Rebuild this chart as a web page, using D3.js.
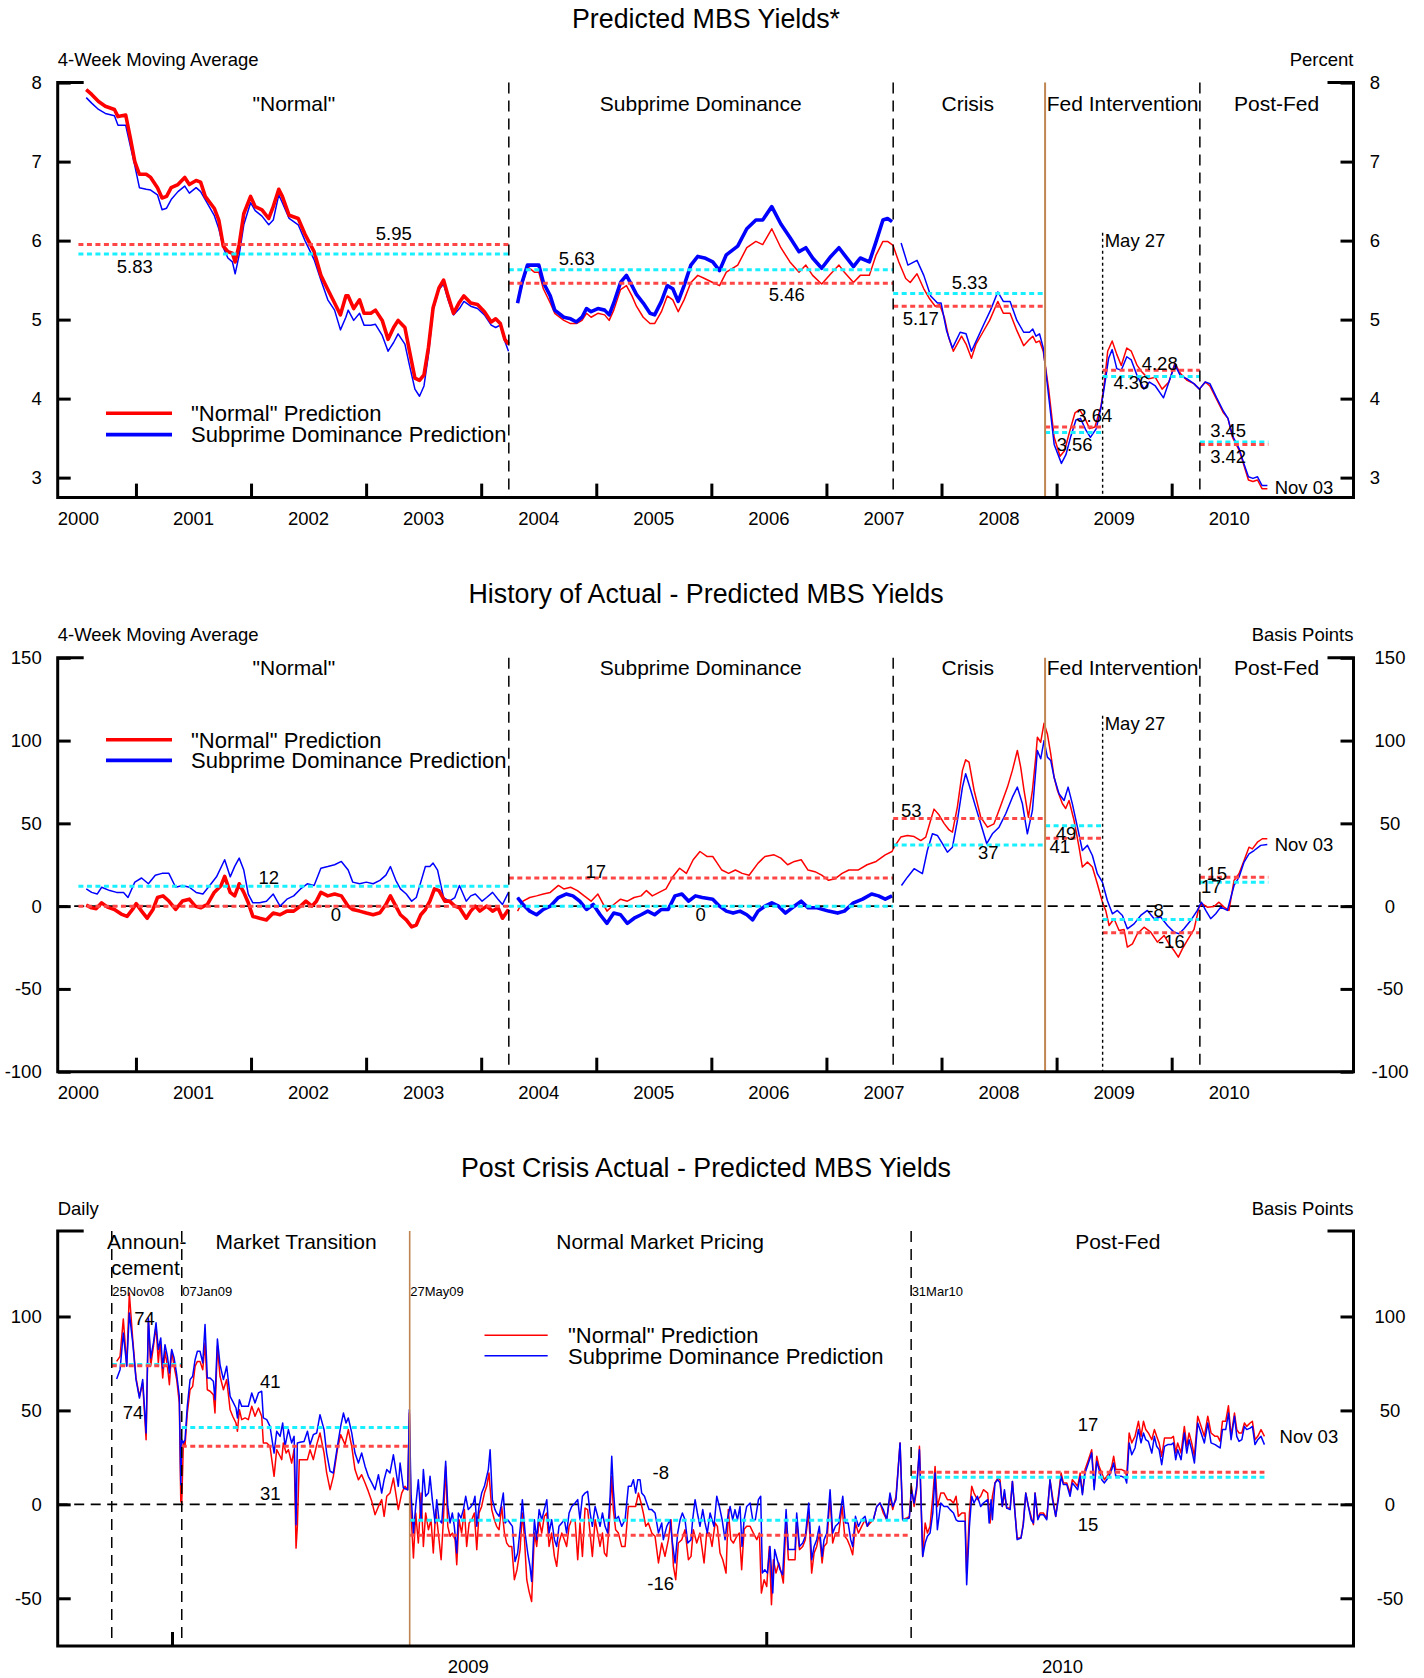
<!DOCTYPE html>
<html>
<head>
<meta charset="utf-8">
<script src="https://cdn.jsdelivr.net/npm/d3@7"></script>
<style>
body { margin: 0; background: #fff; }
svg text { font-family: "Liberation Sans", Arial, sans-serif; fill: #000; }
</style>
</head>
<body>
<svg id="chart" width="1424" height="1678"></svg>
<script>
// ---- regimes (decimal years) ----
const regimeEdges = [2000.50, 2004.24, 2007.58, 2008.90, 2009.40, 2010.245, 2010.84];
const dashedBreaks = [2004.24, 2007.58, 2010.245];
const fedStart = 2008.90;   // 25 Nov 2008
const may27 = 2009.40;      // 27 May 2009
const years = [2000, 2001, 2002, 2003, 2004, 2005, 2006, 2007, 2008, 2009, 2010];
const yearTicks = [2001, 2002, 2003, 2004, 2005, 2006, 2007, 2008, 2009, 2010];

// ---- panel 1: predicted yields, 4-week moving average (percent) ----
const p1Normal = [
[2000.568,7.91],[2000.615,7.85],[2000.675,7.76],[2000.734,7.70],[2000.813,7.66],[2000.844,7.57],[2000.911,7.59],[2000.951,7.30],[2000.990,7.00],[2001.030,6.84],[2001.089,6.84],[2001.128,6.80],[2001.187,6.67],[2001.227,6.54],[2001.266,6.56],[2001.306,6.67],[2001.365,6.71],[2001.424,6.80],[2001.464,6.71],[2001.523,6.76],[2001.562,6.74],[2001.602,6.56],[2001.680,6.41],[2001.720,6.26],[2001.759,5.93],[2001.799,5.86],[2001.838,5.84],[2001.862,5.73],[2001.897,5.95],[2001.937,6.34],[2001.996,6.56],[2002.036,6.43],[2002.095,6.39],[2002.154,6.28],[2002.193,6.43],[2002.241,6.65],[2002.272,6.56],[2002.331,6.32],[2002.410,6.28],[2002.469,6.08],[2002.548,5.86],[2002.607,5.56],[2002.667,5.38],[2002.726,5.21],[2002.777,5.06],[2002.824,5.30],[2002.844,5.30],[2002.892,5.14],[2002.943,5.25],[2002.982,5.08],[2003.041,5.08],[2003.081,5.12],[2003.140,4.99],[2003.191,4.75],[2003.239,4.90],[2003.278,4.99],[2003.337,4.90],[2003.377,4.60],[2003.424,4.26],[2003.464,4.23],[2003.503,4.30],[2003.542,4.65],[2003.582,5.15],[2003.633,5.40],[2003.673,5.50],[2003.712,5.30],[2003.759,5.08],[2003.811,5.22],[2003.850,5.30],[2003.909,5.21],[2003.968,5.19],[2004.028,5.10],[2004.087,4.97],[2004.126,5.01],[2004.166,4.95],[2004.205,4.75],[2004.237,4.69],
[2004.27,null],
[2004.316,5.21],[2004.355,5.43],[2004.402,5.67],[2004.462,5.60],[2004.501,5.60],[2004.540,5.39],[2004.600,5.21],[2004.639,5.08],[2004.718,4.99],[2004.777,4.95],[2004.828,4.95],[2004.876,4.99],[2004.915,5.08],[2004.955,5.03],[2005.014,5.08],[2005.073,5.06],[2005.112,4.99],[2005.152,5.12],[2005.211,5.38],[2005.262,5.43],[2005.310,5.30],[2005.349,5.17],[2005.408,5.03],[2005.467,4.95],[2005.507,4.95],[2005.566,5.10],[2005.617,5.30],[2005.665,5.25],[2005.712,5.10],[2005.763,5.25],[2005.822,5.47],[2005.882,5.56],[2005.941,5.52],[2006.012,5.47],[2006.071,5.43],[2006.130,5.60],[2006.229,5.69],[2006.308,5.91],[2006.387,5.99],[2006.446,5.95],[2006.525,6.15],[2006.604,5.91],[2006.683,5.73],[2006.762,5.60],[2006.821,5.69],[2006.880,5.56],[2006.959,5.45],[2007.038,5.58],[2007.109,5.69],[2007.156,5.60],[2007.235,5.47],[2007.294,5.56],[2007.373,5.56],[2007.432,5.82],[2007.491,5.99],[2007.531,5.99],[2007.570,5.95],
[2007.578,5.94],[2007.629,5.73],[2007.689,5.52],[2007.728,5.47],[2007.787,5.58],[2007.846,5.39],[2007.898,5.26],[2007.945,5.17],[2007.984,5.19],[2008.024,5.03],[2008.063,4.77],[2008.103,4.60],[2008.174,4.79],[2008.213,4.69],[2008.260,4.51],[2008.300,4.69],[2008.359,4.84],[2008.418,4.99],[2008.489,5.23],[2008.537,5.08],[2008.596,5.08],[2008.655,4.86],[2008.714,4.67],[2008.765,4.75],[2008.793,4.79],[2008.821,4.71],[2008.852,4.73],[2008.884,4.60],[2008.931,4.12],[2008.979,3.51],[2009.030,3.27],[2009.069,3.34],[2009.109,3.56],[2009.160,3.82],[2009.199,3.86],[2009.247,3.75],[2009.286,3.62],[2009.333,3.64],[2009.385,3.90],[2009.412,4.16],[2009.444,4.60],[2009.483,4.73],[2009.523,4.56],[2009.562,4.42],[2009.610,4.64],[2009.649,4.60],[2009.700,4.42],[2009.740,4.34],[2009.799,4.25],[2009.858,4.27],[2009.917,4.12],[2009.976,4.21],[2010.028,4.45],[2010.075,4.32],[2010.134,4.23],[2010.193,4.19],[2010.241,4.12],[2010.292,4.21],[2010.332,4.16],[2010.391,3.99],[2010.450,3.82],[2010.489,3.75],[2010.529,3.51],[2010.588,3.34],[2010.627,3.16],[2010.667,2.97],[2010.706,2.95],[2010.746,2.97],[2010.785,2.86],[2010.832,2.86]
];
const p1Subprime = [
[2000.568,7.81],[2000.615,7.74],[2000.675,7.66],[2000.734,7.61],[2000.813,7.58],[2000.844,7.46],[2000.911,7.46],[2000.951,7.20],[2000.990,6.95],[2001.030,6.67],[2001.089,6.65],[2001.128,6.64],[2001.187,6.58],[2001.227,6.39],[2001.266,6.41],[2001.306,6.52],[2001.365,6.62],[2001.424,6.69],[2001.464,6.60],[2001.523,6.67],[2001.562,6.62],[2001.602,6.52],[2001.680,6.32],[2001.720,6.15],[2001.759,5.91],[2001.799,5.78],[2001.838,5.73],[2001.862,5.58],[2001.897,5.82],[2001.937,6.20],[2001.996,6.48],[2002.036,6.38],[2002.095,6.31],[2002.154,6.20],[2002.193,6.26],[2002.241,6.58],[2002.272,6.48],[2002.331,6.28],[2002.410,6.20],[2002.469,6.00],[2002.548,5.76],[2002.607,5.50],[2002.667,5.25],[2002.726,5.12],[2002.777,4.87],[2002.824,5.03],[2002.844,5.12],[2002.892,4.99],[2002.943,5.08],[2002.982,4.93],[2003.041,4.93],[2003.081,4.94],[2003.140,4.80],[2003.191,4.60],[2003.239,4.71],[2003.278,4.82],[2003.337,4.69],[2003.377,4.42],[2003.424,4.12],[2003.464,4.03],[2003.503,4.16],[2003.542,4.56],[2003.582,5.12],[2003.633,5.38],[2003.673,5.45],[2003.712,5.25],[2003.759,5.06],[2003.811,5.14],[2003.850,5.23],[2003.909,5.17],[2003.968,5.14],[2004.028,5.06],[2004.087,4.93],[2004.126,4.90],[2004.166,4.93],[2004.205,4.73],[2004.237,4.60],
[2004.27,null],
[2004.316,5.21],[2004.355,5.47],[2004.402,5.69],[2004.462,5.69],[2004.501,5.69],[2004.540,5.47],[2004.600,5.30],[2004.639,5.12],[2004.718,5.03],[2004.777,5.01],[2004.828,4.97],[2004.876,5.03],[2004.915,5.14],[2004.955,5.10],[2005.014,5.14],[2005.073,5.12],[2005.112,5.06],[2005.152,5.21],[2005.211,5.47],[2005.262,5.56],[2005.310,5.43],[2005.349,5.32],[2005.408,5.21],[2005.467,5.08],[2005.507,5.06],[2005.566,5.23],[2005.617,5.43],[2005.665,5.39],[2005.712,5.23],[2005.763,5.43],[2005.822,5.69],[2005.882,5.80],[2005.941,5.78],[2006.012,5.73],[2006.071,5.62],[2006.130,5.82],[2006.229,5.93],[2006.308,6.15],[2006.387,6.26],[2006.446,6.26],[2006.525,6.43],[2006.604,6.21],[2006.683,6.04],[2006.762,5.86],[2006.821,5.91],[2006.880,5.78],[2006.959,5.65],[2007.038,5.80],[2007.109,5.91],[2007.156,5.82],[2007.235,5.67],[2007.294,5.78],[2007.373,5.73],[2007.432,5.99],[2007.491,6.26],[2007.531,6.28],[2007.570,6.24],
[2007.60,null],
[2007.649,5.97],[2007.708,5.69],[2007.787,5.75],[2007.846,5.56],[2007.906,5.30],[2007.965,5.21],[2007.996,5.21],[2008.044,4.86],[2008.095,4.64],[2008.162,4.84],[2008.213,4.82],[2008.260,4.60],[2008.308,4.75],[2008.371,4.95],[2008.426,5.12],[2008.489,5.35],[2008.537,5.23],[2008.596,5.23],[2008.655,4.99],[2008.714,4.84],[2008.765,4.84],[2008.793,4.88],[2008.821,4.79],[2008.852,4.82],[2008.884,4.64],[2008.931,4.03],[2008.979,3.42],[2009.042,3.18],[2009.081,3.29],[2009.121,3.51],[2009.168,3.73],[2009.207,3.75],[2009.255,3.60],[2009.294,3.51],[2009.345,3.62],[2009.385,3.88],[2009.412,4.12],[2009.452,4.51],[2009.483,4.62],[2009.523,4.38],[2009.562,4.36],[2009.610,4.53],[2009.649,4.49],[2009.700,4.29],[2009.759,4.12],[2009.807,4.21],[2009.858,4.16],[2009.929,4.01],[2009.976,4.21],[2010.028,4.43],[2010.075,4.29],[2010.134,4.25],[2010.193,4.19],[2010.241,4.12],[2010.292,4.21],[2010.332,4.19],[2010.391,4.01],[2010.450,3.84],[2010.489,3.75],[2010.529,3.53],[2010.588,3.36],[2010.627,3.18],[2010.667,3.01],[2010.706,2.99],[2010.746,3.01],[2010.785,2.90],[2010.832,2.90]
];
const p1MeanNormal = [5.95, 5.46, 5.17, 3.64, 4.36, 3.42];
const p1MeanSub = [5.83, 5.63, 5.33, 3.57, 4.28, 3.45];

// ---- panel 2: actual - predicted, 4-week moving average (bp) ----
const p2Normal = [
[2000.568,0.6],[2000.615,-1],[2000.655,-1.5],[2000.702,2],[2000.753,-0.6],[2000.813,-2],[2000.872,-4.8],[2000.923,-6.2],[2000.970,-2],[2001.002,1.5],[2001.049,-3],[2001.097,-7.3],[2001.148,-2],[2001.187,5.2],[2001.235,6.2],[2001.286,3.1],[2001.345,-2],[2001.404,3.1],[2001.464,4.2],[2001.515,0],[2001.562,-1],[2001.621,1],[2001.680,8.3],[2001.740,12.5],[2001.771,18],[2001.819,8.3],[2001.858,6.2],[2001.897,13.5],[2001.937,8.3],[2001.976,2],[2002.016,-6.2],[2002.075,-7.3],[2002.134,-8.3],[2002.193,-4.2],[2002.252,-5.2],[2002.312,-3],[2002.371,-3],[2002.430,0],[2002.477,3],[2002.529,0],[2002.568,3],[2002.607,8.3],[2002.667,6.2],[2002.726,7.3],[2002.785,6.2],[2002.844,0],[2002.884,-2],[2002.943,-3],[2003.002,-4.2],[2003.061,-5.2],[2003.120,-4],[2003.172,1],[2003.211,6.2],[2003.258,0],[2003.298,-5.2],[2003.349,-8.3],[2003.396,-12.5],[2003.436,-11.4],[2003.475,-5.2],[2003.515,-2],[2003.554,3],[2003.594,10.4],[2003.633,9.4],[2003.684,3],[2003.724,3],[2003.771,0],[2003.811,-1],[2003.870,-7.3],[2003.909,-3],[2003.949,0],[2003.988,-3],[2004.047,0],[2004.099,-3],[2004.146,-1],[2004.185,-7.3],[2004.237,-2],
[2004.27,null],
[2004.316,-3],[2004.363,3],[2004.422,5.2],[2004.481,6.2],[2004.540,7.3],[2004.600,8.3],[2004.671,12.5],[2004.718,10.4],[2004.777,11.4],[2004.836,9.4],[2004.895,6.2],[2004.955,3],[2005.014,7.3],[2005.093,-3],[2005.152,1],[2005.211,4.2],[2005.270,3],[2005.329,5.2],[2005.389,6.2],[2005.436,9.4],[2005.487,6.2],[2005.546,8.3],[2005.606,10.4],[2005.665,17.7],[2005.724,22.9],[2005.783,19.8],[2005.842,28],[2005.901,33],[2005.961,30],[2006.012,30],[2006.051,26],[2006.091,21.8],[2006.150,19.8],[2006.209,21.8],[2006.268,19.8],[2006.328,18.7],[2006.406,26],[2006.466,30],[2006.545,31],[2006.604,29],[2006.663,25],[2006.722,27],[2006.781,28],[2006.840,21.8],[2006.900,20.8],[2006.959,18.7],[2007.018,15.6],[2007.077,16.6],[2007.136,19.8],[2007.195,21.8],[2007.274,21.8],[2007.353,25],[2007.432,27],[2007.511,31],[2007.570,33],
[2007.588,35.6],[2007.646,41.7],[2007.704,42.7],[2007.762,42],[2007.820,39.6],[2007.863,41.7],[2007.906,52],[2007.935,58.6],[2007.979,55],[2008.022,50],[2008.066,46],[2008.095,44.7],[2008.138,60],[2008.182,82],[2008.210,88.4],[2008.239,87],[2008.283,70],[2008.341,53.7],[2008.399,47.7],[2008.456,49.7],[2008.515,60.8],[2008.573,71.9],[2008.616,82],[2008.659,94],[2008.688,84],[2008.717,69.9],[2008.755,53.7],[2008.790,69.9],[2008.819,90],[2008.833,102],[2008.862,99],[2008.891,110.5],[2008.920,104],[2008.949,92],[2008.978,78],[2009.007,70],[2009.050,62],[2009.079,59],[2009.108,63.8],[2009.152,51.7],[2009.195,35.6],[2009.224,23.6],[2009.268,26.6],[2009.311,23.6],[2009.354,13.5],[2009.398,2.4],[2009.427,-2.6],[2009.456,-11.7],[2009.499,-7.6],[2009.543,-14.7],[2009.586,-14.1],[2009.615,-24.7],[2009.659,-22.8],[2009.702,-16.7],[2009.760,-12.7],[2009.818,-15.7],[2009.876,-21.7],[2009.934,-17.7],[2009.977,-22.8],[2010.020,-26.8],[2010.058,-30.8],[2010.093,-25.8],[2010.136,-20.7],[2010.194,-14.1],[2010.238,-0.6],[2010.267,1.4],[2010.310,-0.6],[2010.368,-0.2],[2010.411,2.4],[2010.455,-0.6],[2010.498,-2.6],[2010.542,15.5],[2010.585,19.6],[2010.629,27.6],[2010.672,35.6],[2010.701,34.6],[2010.745,38.6],[2010.788,40.7],[2010.831,40.7]
];
const p2Subprime = [
[2000.568,10.4],[2000.615,8.3],[2000.663,7.3],[2000.702,11.4],[2000.773,9.4],[2000.832,8.3],[2000.892,8.3],[2000.931,5.2],[2000.990,14.5],[2001.049,17],[2001.108,13.5],[2001.168,18.7],[2001.227,19.8],[2001.286,19.8],[2001.345,11.4],[2001.404,12.5],[2001.464,11.4],[2001.523,8.3],[2001.582,7.3],[2001.641,12.5],[2001.700,17.7],[2001.771,28],[2001.819,17.7],[2001.858,24],[2001.897,29],[2001.937,21.8],[2001.976,7.3],[2002.016,2],[2002.075,2],[2002.134,3],[2002.193,7.3],[2002.252,0],[2002.312,4.2],[2002.371,6.2],[2002.430,10.4],[2002.489,13.5],[2002.548,12.5],[2002.607,22.9],[2002.667,23.9],[2002.726,25],[2002.785,27],[2002.844,21.8],[2002.884,14.5],[2002.943,13.5],[2003.002,14.5],[2003.061,13.5],[2003.120,15.6],[2003.172,18.7],[2003.211,23.9],[2003.258,15.6],[2003.298,10.4],[2003.349,7.3],[2003.396,3],[2003.436,5.2],[2003.475,14.5],[2003.515,23.9],[2003.554,23.9],[2003.582,26],[2003.621,21.8],[2003.673,5.2],[2003.724,3],[2003.771,5.2],[2003.811,12.5],[2003.870,3],[2003.909,6.2],[2003.949,7.3],[2004.008,3],[2004.047,5.2],[2004.099,8.3],[2004.146,4.2],[2004.185,1],[2004.237,8.3],
[2004.27,null],
[2004.316,5.2],[2004.363,1],[2004.422,-3],[2004.481,-5.2],[2004.540,-2],[2004.600,0],[2004.671,5.2],[2004.738,7.3],[2004.797,6.2],[2004.856,3],[2004.915,-2],[2004.974,1],[2005.034,-5.2],[2005.093,-10.4],[2005.152,-4.2],[2005.211,-5.2],[2005.270,-10.4],[2005.329,-7.3],[2005.389,-5.2],[2005.448,-3],[2005.507,-5.2],[2005.566,-2],[2005.625,-2],[2005.684,6.2],[2005.744,7.3],[2005.803,3],[2005.862,6.2],[2005.921,5.2],[2006.012,4.2],[2006.071,0],[2006.130,-3],[2006.189,-4.2],[2006.249,-3],[2006.308,-5.2],[2006.359,-8.3],[2006.406,-3],[2006.466,0],[2006.525,2],[2006.584,0],[2006.643,-4.2],[2006.702,-1],[2006.781,3],[2006.840,-1],[2006.919,-1],[2007.018,-3],[2007.097,-4.2],[2007.156,-3],[2007.235,2],[2007.314,4.2],[2007.393,7.3],[2007.452,6.2],[2007.511,4.2],[2007.570,6.2],
[2007.60,null],
[2007.652,12.5],[2007.704,17.5],[2007.762,22.6],[2007.834,19.6],[2007.877,33.6],[2007.921,43.7],[2007.964,42.7],[2008.008,37.7],[2008.051,32.6],[2008.095,35.6],[2008.138,51.7],[2008.182,71.9],[2008.210,80],[2008.254,70],[2008.297,59.8],[2008.341,49.8],[2008.393,37.7],[2008.442,43.7],[2008.500,47.7],[2008.558,55.8],[2008.616,65.8],[2008.659,71.9],[2008.703,61.8],[2008.746,43.7],[2008.790,57.8],[2008.833,94],[2008.862,89],[2008.891,100],[2008.920,90],[2008.949,88],[2008.978,77.9],[2009.021,67.9],[2009.065,63.8],[2009.100,71.9],[2009.137,61.8],[2009.181,47.7],[2009.224,33.6],[2009.268,36.7],[2009.311,30.6],[2009.354,19.6],[2009.398,14.5],[2009.441,3.4],[2009.485,-4.6],[2009.528,-2.6],[2009.572,-5.6],[2009.615,-13.7],[2009.673,-10.7],[2009.731,-5.6],[2009.789,-2.6],[2009.847,-7.6],[2009.905,-6.6],[2009.963,-11.7],[2010.020,-15.7],[2010.064,-16.7],[2010.107,-13.7],[2010.165,-8.7],[2010.223,-2.6],[2010.258,2.4],[2010.296,-2.6],[2010.339,-7.6],[2010.383,-4.6],[2010.426,-0.6],[2010.484,-2.6],[2010.542,12.5],[2010.585,17.5],[2010.629,26.6],[2010.672,31.6],[2010.716,33.6],[2010.774,36.7],[2010.831,37.3]
];
const p2MeanNormal = [0, 17, 53, 41, -16, 17.5];
const p2MeanSub = [12, 0, 37, 48.5, -8, 14.5];

// ---- panel 3: daily, days since 1 Jan 2009 ----
const p3Edges = [-37, 6, 146, 454, 671];   // 25Nov08, 07Jan09, 27May09, 31Mar10, 03Nov10
const p3Dashed = [-37, 6, 454];
const p3Brown = 146;
const p3Normal = [
[-34.0,76.1],[-31.9,78.8],[-29.9,98.7],[-27.8,73.8],[-26.2,112.5],[-24.1,87.7],[-22.1,67.3],[-20.0,57.5],[-18.0,64.6],[-15.9,34.4],[-14.5,98.3],[-13.1,73.5],[-11.4,84.1],[-9.8,94.8],[-8.4,75.3],[-7.3,86.8],[-5.7,67.3],[-4.3,81.5],[-2.8,73.5],[-1.6,63.7],[-0.2,81.5],[1.3,73.5],[2.9,66.4],[4.5,54],[5.4,1.6],
[6.0,0.7],[7.0,33.5],[8.0,30.9],[9.4,48.6],[11.1,61],[12.7,62.8],[14.2,73.5],[15.6,76.1],[17.2,76.1],[18.9,71.7],[20.3,85.9],[21.7,61],[23.4,60.2],[25.4,58.4],[26.4,48.6],[27.9,84.1],[29.5,68.2],[31.6,61],[33.6,66.4],[35.7,50.4],[37.3,46.9],[39.3,43.3],[40.2,38.9],[41.4,50.4],[42.8,45.1],[44.9,46],[46.9,45.1],[49.0,52.2],[51.0,46.9],[53.1,51.3],[55.1,46.9],[56.1,32.7],[58.2,32.7],[60.2,30.9],[62.7,14.9],[64.3,29.1],[66.4,25.6],[67.4,23.8],[68.4,32.7],[70.1,27.3],[71.5,29.1],[73.5,22],[75.0,29.1],[76.2,-23.3],[77.0,-11.7],[78.2,23.8],[80.7,23.8],[83.2,23.8],[84.8,29.1],[86.8,23.8],[88.9,31.8],[90.9,38],[93.4,27.3],[95.0,16.7],[97.1,7.8],[99.1,14.9],[101.6,29.1],[103.6,37.1],[106.3,31.8],[108.3,39.8],[110.4,30.9],[112.4,18.5],[114.5,13.1],[116.5,15.8],[118.6,11.4],[120.6,6.9],[122.7,1.6],[124.7,-5.5],[126.8,-1.1],[128.8,2.5],[130.3,-6.4],[131.9,4.3],[133.9,6],[136.0,14],
[139.0,-2.8],[141.1,6],[143.1,9.6],[144.8,7.8],[145.8,48.6],[146.8,-4.6],[148.3,-28.6],[149.7,-4.6],[151.3,-20.6],[153.0,6],[154.4,-22.4],[155.8,-4.6],[157.5,-13.5],[159.1,-8.2],[160.5,-25.9],[162.0,-2.8],[163.6,-15.3],[165.3,-29.5],[166.7,-8.2],[168.1,20.2],[169.4,-11.7],[170.8,-17],[172.2,-15.3],[173.9,-18.8],[174.9,-32.1],[176.3,-8.2],[177.9,-15.3],[179.6,-2.8],[181.0,-22.4],[182.5,-9.9],[184.1,-8.2],[185.7,-4.6],[187.2,-24.1],[188.6,-4.6],[190.2,-1.1],[191.9,6],[193.3,9.6],[194.7,16.7],[196.4,-2.8],[198.0,-8.2],[199.4,-11.7],[200.9,-13.5],[202.5,-1.1],[204.2,-15.3],[205.6,-20.6],[207.0,-22.4],[208.7,-22.4],[210.3,-40.1],[211.9,-34.8],[213.8,-24.1],[215.2,-4.6],[216.4,-17],[217.9,-40.1],[219.3,-46.3],[220.9,-51.7],[222.6,-15.3],[224.0,-22.4],[225.5,-8.2],[227.1,-15.3],[228.7,-6.4],[230.2,-4.6],[231.6,-22.4],[233.2,-15.3],[234.9,-27.7],[236.3,-33],[237.7,-20.6],[239.4,-15.3],[241.0,-18.8],[242.4,-22.4],[243.9,-11.7],[245.5,-8.2],[247.6,-8.2],[249.2,-29.5],[250.6,-9.9],[252.1,-27.7],[253.7,-2],[255.3,-2.8],[256.8,-15.3],[258.2,-27.7],[259.9,-8.2],[261.5,-15.3],[262.9,-22.4],[264.4,-15.3],[265.6,-25.9],[267.0,-27.7],[268.5,-11.7],[270.1,14.9],[271.1,-2.8],[272.5,-13.5],[274.2,-15.3],[276.2,-22.4],[278.3,-22.4],[280.3,-1.1],[282.8,-1.1],[284.8,-1.1],[286.5,6],[288.1,0.7],[289.5,-4.6],[291.0,-11.7],[292.6,-9.9],[294.7,-15.3],[296.7,-17],[298.8,-31.2],[300.8,-20.6],[302.8,-27.7],[304.9,-18.8],[306.5,-8.2],[308.0,-33],[309.4,-40.1],[311.0,-20.6],[313.1,-18.8],[315.1,-13.5],[317.2,-29.5],[318.8,-27.7],
[320.2,-13.5],[322.3,-20.6],[324.3,-15.3],[326.8,-31.2],[328.4,-15.3],[330.1,-15.3],[331.7,-22.4],[333.6,-9.9],[335.0,-11.7],[336.6,-25.9],[338.3,-29.5],[340.3,-36.6],[341.7,-2.8],[343.2,-18.8],[344.8,-20.6],[346.9,-17],[348.5,-15.3],[349.9,-34.8],[351.4,-13.3],[353.0,-11.7],[355.1,-11.7],[357.1,-15.3],[359.2,-18.8],[360.8,-15.3],[362.0,-47.2],[363.7,-40.1],[365.3,-43.7],[366.9,-22.4],[368.2,-53.4],[369.4,-29.5],[371.0,-36.6],[372.7,-31.2],[374.3,-36.6],[375.5,-41.9],[377.2,-8.2],[378.6,-29.5],[380.7,-29.5],[382.7,-29.5],[383.7,-8.2],[385.4,-24.1],[387.4,-22.4],[389.0,-18.8],[391.1,-4.6],[392.9,-36.6],[394.4,-25.9],[396.0,-22.4],[397.6,-15.3],[399.3,-31.2],[400.5,-22.4],[402.2,-20.6],[404.2,4.3],[405.8,-20.6],[407.5,-15.3],[409.5,-15.3],[411.6,-1.1],[413.2,-17],[414.8,-18.8],[416.5,-22.4],[418.1,-26.8],[419.8,-9.9],[421.6,-15.3],[423.6,-11.7],[425.7,-8.2],[427.1,-11.7],[428.8,-9.9],[430.8,-8.2],[432.9,-1.1],[434.9,0.7],[436.9,-4.6],[439.0,-8.2],[441.0,4.3],[442.7,-2.8],[444.7,4.3],[447.2,32.7],[448.8,-8.2],[451.3,-7.3],[452.9,-6.4],[454.2,9.6],[455.8,-1.1],[457.4,7.8],[459.1,30.9],[461.1,-27.7],[462.6,-9.9],[464.0,-15.3],[465.6,-11.7],[467.3,4.3],[468.7,20.2],[470.1,-1.1],[472.2,6],[474.2,6],[476.3,2.5],[477.9,2.5],[480.0,0.7],[481.6,4.3],[483.0,-6.4],[485.1,-4.6],[487.1,-4.6],[488.1,-36.6],[489.8,-4.6],[491.2,9.6],[492.6,6],[494.7,2.5],[496.7,4.3],[498.4,7.8],
[501.0,6],[502.5,-9.9],[503.9,4.3],[505.5,11.4],[507.2,14],[508.6,13.1],[510.0,-1.1],[511.3,6],[512.7,-2],[514.8,-2],[516.2,12.2],[517.8,-4.6],[519.1,-17.9],[521.5,-17.9],[522.9,-9.9],[524.4,6],[526.0,-1.1],[527.7,-6.4],[529.1,-10.8],[530.1,6],[531.8,-7.3],[533.2,-4.6],[535.2,-4.6],[537.3,-7.3],[539.3,13.1],[540.8,4.3],[542.8,-6.4],[544.4,4.3],[546.1,16.7],[547.5,11.4],[549.6,11.4],[551.6,6],[553.0,13.1],[554.7,11.4],[556.3,9.6],[557.8,16.7],[559.2,6],[560.8,18.5],[562.9,23.8],[564.9,29.1],[566.4,9.6],[568.0,25.6],[569.4,20.2],[571.1,16.7],[572.7,13.1],[574.1,14.9],[575.6,16.7],[577.2,20.2],[578.4,25.6],[579.7,18.5],[581.3,18.5],[583.3,18.5],[585.4,17.6],[586.4,14.9],[587.9,38],[589.5,32.7],[591.5,36.2],[593.6,44.2],[595.2,36.2],[596.7,44.2],[598.1,39.8],[599.7,38],[601.8,34.4],[603.4,39.8],[604.8,36.2],[606.3,32.7],[607.9,25.6],[609.6,35.3],[611.6,35.3],[613.7,35.3],[615.1,36.2],[616.5,27.3],[617.7,32.7],[619.8,27.3],[621.8,41.5],[623.3,30.9],[624.7,38],[626.3,32.7],[628.0,25.6],[630.0,46.9],[632.1,41.5],[634.1,36.2],[636.2,46.9],[638.2,38],[640.7,36.2],[642.3,36.2],[643.8,33.5],[645.2,44.2],[647.2,44.2],[648.9,52.5],[650.5,36.2],[652.6,48.6],[654.0,39.8],[655.4,38],[657.1,38],[658.7,43.3],[660.1,41.5],[662.2,43.3],[663.6,44.2],[665.2,34.4],[666.9,36.2],[668.9,39.8],[671.0,36.2]
];
const p3Subprime = [
[-34.0,66.7],[-31.9,71.7],[-29.9,91.2],[-27.8,73.5],[-26.2,101.9],[-24.1,85.9],[-22.1,66.4],[-20.0,56.6],[-18.0,66.4],[-15.9,38],[-14.5,99.2],[-13.1,77.9],[-11.4,85.9],[-9.8,96.6],[-8.4,82.4],[-6.9,88.6],[-5.7,72.6],[-4.3,85],[-2.8,78.8],[-1.6,69.9],[-0.2,82.4],[1.3,77.9],[2.9,69],[4.5,57.5],[5.4,10.5],
[6.0,34.4],[7.0,32.7],[8.0,34.4],[9.4,52.2],[11.1,66.4],[12.7,68.2],[14.2,77],[15.6,81.5],[17.2,81.5],[18.9,75.3],[20.3,95.7],[21.7,67.3],[23.4,67.3],[25.4,65.5],[26.4,55.7],[27.9,88],[29.5,74.4],[31.6,66.4],[33.6,73.5],[35.7,57.5],[37.3,54.8],[39.3,51.3],[40.2,46],[41.4,55.7],[42.8,52.2],[44.9,52.2],[46.9,52.2],[49.0,59.3],[51.0,54],[53.1,59.3],[55.1,60.2],[56.1,46],[58.2,45.1],[60.2,41.5],[62.7,27.3],[64.3,38.9],[66.4,36.2],[68.0,43.3],[69.4,30.9],[71.5,39.8],[73.5,32.7],[75.0,36.2],[76.2,-10.8],[77.0,32.7],[78.6,33],[81.1,33.5],[83.2,38.9],[84.8,31.8],[86.8,37.1],[88.9,38],[90.9,47.7],[93.4,39.8],[95.0,27.3],[97.1,17.6],[99.1,16.7],[101.6,30.9],[103.6,41.5],[105.3,48.6],[106.9,43.3],[108.3,46],[110.4,38],[112.4,27.3],[114.5,22],[116.5,27.3],[118.6,20.2],[120.6,14.9],[122.7,11.4],[124.7,7.8],[126.8,15.8],[128.8,6],[130.3,13.1],[131.9,18.5],[133.9,16.7],[136.0,26.4],
[139.0,9.6],[140.1,22],[142.1,8.7],[144.8,7.8],[145.8,50.4],[146.8,6],[148.3,-15.3],[149.7,-1.1],[151.3,13.1],[153.0,-8.2],[154.4,18.5],[155.8,4.3],[157.5,6],[158.5,14.9],[159.9,2.5],[161.6,-9.9],[162.6,2.5],[164.0,-8.2],[165.7,-9.9],[166.7,2.5],[168.1,22.9],[169.4,-1.1],[170.8,-9.9],[172.2,-4.6],[173.4,-11.7],[174.9,-25.9],[175.9,-4.6],[177.5,-7.3],[179.0,-2.8],[180.4,4.3],[182.0,-2.8],[183.7,-1.1],[185.1,0.7],[186.1,4.3],[187.2,-11.7],[188.6,-1.1],[190.2,6],[191.9,9.6],[193.3,14.9],[194.3,18.5],[195.4,29.1],[196.8,2.5],[198.4,-2.8],[199.4,-4.6],[200.9,-6.4],[202.1,-1.1],[203.5,6],[204.6,-9.9],[206.2,-8.2],[207.6,-9.9],[209.1,-11.7],[210.7,-30.4],[212.3,-25.9],[214.0,-11.7],[215.2,2.5],[216.9,-15.3],[218.5,-25.9],[219.9,-33],[220.9,-41],[222.6,-8.2],[224.0,-18.8],[225.5,-2.8],[227.1,-8.2],[228.7,-2.8],[230.2,2.5],[231.6,-15.3],[233.2,-8.2],[234.9,-18.8],[236.3,-22.4],[237.7,-11.7],[239.4,-9.9],[241.0,-8.2],[242.4,-15.3],[243.9,-4.6],[245.5,-1.1],[247.6,0.7],[249.2,2.5],[250.6,-8.2],[252.1,4.3],[253.7,6],[255.3,6.9],[256.8,-4.6],[258.2,-11.7],[259.9,-1.1],[261.5,-6.4],[262.9,-11.7],[264.4,-4.6],[266.0,-11.7],[267.6,-15.3],[269.1,4.3],[270.1,25.6],[271.1,7.8],[272.5,-8.2],[274.2,-6.4],[276.2,-11.7],[278.3,-8.2],[280.3,9.6],[282.0,9.6],[283.4,13.1],[284.8,6],[286.1,13.1],[287.5,13.1],[288.5,6],[290.2,4.3],[291.6,0.7],[293.0,-2.8],[294.7,-2.8],[296.7,-4.6],[298.8,-15.3],[300.8,-9.9],[301.8,-18.8],[303.9,-11.7],[305.9,-8.2],[307.4,-20.6],[309.0,-31.2],[310.6,-15.3],[312.1,-8.2],[313.5,-4.6],[315.1,-8.2],[316.8,-20.6],[318.8,-18.8],
[319.8,-8.2],[321.3,2.5],[322.7,-4.6],[324.3,-11.7],[326.0,-2.8],[327.4,-9.9],[328.8,-15.3],[330.5,-4.6],[331.7,-8.2],[332.9,-11.7],[334.6,4.3],[336.2,-1.1],[337.9,-8.2],[339.7,-18.8],[341.1,-8.2],[342.8,-1.1],[344.4,-8.2],[345.8,-2.8],[347.3,-8.2],[348.9,-1.1],[350.1,-22.4],[351.4,-8.2],[353.0,-1.1],[355.1,0.7],[356.7,-8.2],[358.3,-8.2],[360.2,2.5],[361.6,4.3],[362.6,-36.6],[364.1,-34.8],[365.7,-36.6],[367.3,-22.4],[369.0,-47.2],[370.2,-24.1],[371.8,-29.5],[373.5,-34.8],[375.1,-37.5],[377.2,-2.8],[378.6,-24.1],[380.7,-24.1],[382.7,-24.1],[383.7,-4.6],[385.4,-22.4],[387.4,-20.6],[389.0,-17],[391.1,0.7],[392.9,-29.5],[394.4,-22.4],[396.0,-18.8],[397.6,-11.7],[399.3,-27.7],[400.5,-18.8],[402.2,-15.3],[404.2,7.8],[405.8,-15.3],[407.5,-11.7],[409.5,-9.9],[412.0,4.3],[413.6,-9.9],[415.3,-9.9],[416.9,-18.8],[418.1,-22.4],[419.8,-6.4],[421.6,-11.7],[423.6,-8.2],[425.7,-6.4],[427.1,-11.7],[428.8,-8.2],[430.8,-8.2],[432.9,-1.1],[434.9,0.7],[436.9,-2.8],[439.0,-8.2],[441.0,6],[442.7,-1.1],[444.7,2.5],[447.2,32.7],[448.8,-8.2],[451.3,-7.8],[452.9,-7.3],[454.2,7.8],[455.8,0.7],[457.4,9.6],[459.1,29.1],[461.1,-27.7],[462.6,-20.6],[464.0,-17],[465.6,-15.3],[467.3,-4.6],[468.7,16.7],[470.1,-13.5],[472.2,0.7],[474.2,-1.1],[476.3,-1.1],[477.9,-2.8],[480.0,-4.6],[481.6,-8.2],[483.0,-9],[485.1,-9],[487.1,-9],[488.1,-42.8],[489.8,-11.7],[491.2,4.3],[492.6,0.7],[494.7,4.3],[496.7,-1.1],[498.4,0.7],
[501.0,2.5],[501.9,-9.9],[503.1,2.5],[503.9,-8.2],[505.5,11.4],[507.2,13.1],[508.6,11.4],[510.0,-1.1],[511.3,7.8],[512.7,-2],[514.8,-2.8],[516.2,12.2],[517.8,-4.6],[519.1,-18.8],[521.5,-17.9],[522.9,-10.8],[524.4,6],[526.0,-1.1],[527.7,-8.2],[529.1,-9.9],[530.1,6],[531.8,-8.2],[533.2,-5.5],[535.2,-5.5],[537.3,-8.2],[539.3,13.1],[540.8,2.5],[542.8,-6.4],[544.4,2.5],[546.1,14.9],[547.5,10.5],[549.6,10.5],[551.6,4.3],[553.0,11.4],[554.7,9.6],[556.3,7.8],[557.8,14.9],[559.2,5.1],[560.8,16.7],[562.9,22],[564.9,27.3],[566.4,7.8],[568.0,22.9],[569.4,18.5],[571.1,13.1],[572.7,11.4],[574.1,13.1],[575.6,14.9],[577.2,18.5],[578.4,22],[579.7,14.9],[581.3,14.9],[583.3,14.9],[585.4,14],[586.4,11.4],[587.9,32.7],[589.5,26.4],[591.5,30],[593.6,39.8],[595.2,32.7],[596.7,38],[598.1,34.4],[599.7,33.5],[601.8,27.3],[603.4,36.2],[604.8,30.9],[606.3,29.1],[607.9,21.1],[609.6,30.9],[611.6,31.8],[613.7,31.8],[615.1,32.7],[616.5,23.8],[617.7,29.1],[619.8,23.8],[621.8,38],[623.3,27.3],[624.7,34.4],[626.3,29.1],[628.0,22],[630.0,43.3],[632.1,38],[634.1,32.7],[636.2,43.3],[638.2,32.7],[640.7,31.8],[642.3,30.9],[643.8,30],[645.2,39.8],[647.2,39.8],[648.9,48.6],[650.5,34.4],[652.6,46.9],[654.0,36.2],[655.4,33.5],[657.1,34.4],[658.7,41.5],[660.1,39.8],[662.2,40.6],[663.6,41.5],[665.2,31.8],[666.9,34.4],[668.9,36.2],[671.0,31.8]
];
const p3MeanNormal = [73.8, 30.9, -16.5, 17.1];
const p3MeanSub = [74.4, 40.9, -8.4, 14.4];

// ---- drawing ----
const RED = "#ff0000", BLUE = "#0000ff", MRED = "#ff4646", MCYAN = "#19f0ff", BROWN = "#c08552";
const LEFT = 57.7, RIGHT = 1353.5;
const svg = d3.select("#chart");
const plain = d => String(d);   // hyphen minus, like the original

function txt(g, x, y, s, size, anchor) {
    return g.append("text").attr("x", x).attr("y", y).attr("dy", "0.35em")
        .attr("text-anchor", anchor || "start").style("font-size", size + "px").text(s);
}

function vline(g, x, y0, y1, color, width, dash) {
    g.append("line").attr("x1", x).attr("x2", x).attr("y1", y0).attr("y2", y1)
        .attr("stroke", color).attr("stroke-width", width)
        .attr("stroke-dasharray", dash || null);
}

function series(g, x, y, pts, color, width) {
    g.append("path").datum(pts)
        .attr("fill", "none").attr("stroke", color).attr("stroke-width", width)
        .attr("stroke-linejoin", "round")
        .attr("d", d3.line().defined(d => d[1] !== null).x(d => x(d[0])).y(d => y(d[1])));
}

function means(g, x, y, edges, vals, color) {
    const segs = vals.map((v, i) => ({ a: edges[i], b: edges[i + 1], v: v }));
    g.selectAll(null).data(segs).enter().append("line")
        .attr("x1", d => x(d.a)).attr("x2", d => x(d.b))
        .attr("y1", d => y(d.v)).attr("y2", d => y(d.v))
        .attr("stroke", color).attr("stroke-width", 3).attr("stroke-dasharray", "5,3.5");
}

function frame(g, x, y, o) {
    const yTop = y.range()[1], yBot = y.range()[0];
    // left axis
    const la = g.append("g").attr("transform", "translate(" + LEFT + ",0)")
        .call(d3.axisLeft(y).tickValues(o.yTicks).tickSize(-13).tickPadding(16).tickFormat(plain));
    la.select(".domain").remove();
    la.selectAll("line").attr("stroke-width", 3);
    la.selectAll("text").style("font-size", "18.5px");
    // right axis
    const ra = g.append("g").attr("transform", "translate(" + RIGHT + ",0)")
        .call(d3.axisRight(y).tickValues(o.yTicks).tickSize(-13).tickFormat(plain));
    ra.select(".domain").remove();
    ra.selectAll("line").attr("stroke-width", 3);
    ra.selectAll("text").attr("text-anchor", "middle").attr("x", o.rightLabelX - RIGHT).style("font-size", "18.5px");
    // axis lines and top caps
    g.append("path").attr("fill", "none").attr("stroke", "#000").attr("stroke-width", 3)
        .attr("d", "M" + (LEFT + 26) + "," + yTop + "H" + LEFT + "V" + yBot + "H" + RIGHT + "V" + yTop + "H" + (RIGHT - 26));
    // bottom ticks
    const ba = g.append("g").attr("transform", "translate(0," + yBot + ")")
        .call(d3.axisBottom(x).tickValues(o.xTicks).tickSize(-14).tickFormat(""));
    ba.select(".domain").remove();
    ba.selectAll("line").attr("stroke-width", 3);
    // x labels, centred in the period
    o.xLabels.forEach(l => txt(g, x(l[0]), o.xLabelY, l[1], 18.5, "middle"));
}

function clip(id, y) {
    svg.append("clipPath").attr("id", id).append("rect")
        .attr("x", LEFT).attr("y", y.range()[1]).attr("width", RIGHT - LEFT).attr("height", y.range()[0] - y.range()[1]);
}

function legend(g, x0, x1, tx, y1, y2, w) {
    g.append("line").attr("x1", x0).attr("x2", x1).attr("y1", y1).attr("y2", y1).attr("stroke", RED).attr("stroke-width", w);
    g.append("line").attr("x1", x0).attr("x2", x1).attr("y1", y2).attr("y2", y2).attr("stroke", BLUE).attr("stroke-width", w);
    txt(g, tx, y1, "\"Normal\" Prediction", 22);
    txt(g, tx, y2, "Subprime Dominance Prediction", 22);
}

const xYear = d3.scaleLinear().domain([2000.32, 2011.58]).range([LEFT, RIGHT]);
const yearLabels = years.map(d => [d + 0.5, String(d)]);
const regionNames = [["\"Normal\"", 2002.372, "middle"], ["Subprime Dominance", 2005.908, "middle"], ["Crisis", 2008.228, "middle"], ["Fed Intervention", 2008.905, "start"], ["Post-Fed", 2010.912, "middle"]];

function yearPanel(y, top, cfg) {
    const g = svg.append("g");
    const id = "clip" + top;
    clip(id, y);
    const yTop = y.range()[1], yBot = y.range()[0];
    txt(g, 706, top + 19, cfg.title, 26.8, "middle");
    txt(g, LEFT, top + 60, "4-Week Moving Average", 18.5);
    txt(g, RIGHT, top + 60, cfg.unit, 18.5, "end");

    const pl = g.append("g").attr("clip-path", "url(#" + id + ")");
    if (cfg.zero) {
        pl.append("line").attr("x1", LEFT).attr("x2", RIGHT).attr("y1", y(0)).attr("y2", y(0))
            .attr("stroke", "#000").attr("stroke-width", 1.6).attr("stroke-dasharray", "10,6.5");
    }
    series(pl, xYear, y, cfg.red, RED, 1.5);
    series(pl, xYear, y, cfg.blue, BLUE, 1.5);
    series(pl, xYear, y, cfg.red.filter(d => d[0] <= 2004.25), RED, 3.6);
    series(pl, xYear, y, cfg.blue.filter(d => d[0] >= 2004.3 && d[0] <= 2007.58), BLUE, 3.6);
    means(pl, xYear, y, regimeEdges, cfg.meanSub, MCYAN);
    means(pl, xYear, y, regimeEdges, cfg.meanNormal, MRED);

    dashedBreaks.forEach(t => vline(g, xYear(t), yTop, yBot, "#000", 1.5, "11,7"));
    vline(g, xYear(fedStart), yTop, yBot, BROWN, 2);
    vline(g, xYear(may27), y(cfg.mayTop), yBot, "#000", 1.4, "3,3");

    frame(g, xYear, y, { yTicks: cfg.yTicks, rightLabelX: cfg.rightLabelX, xTicks: yearTicks, xLabels: yearLabels, xLabelY: yBot + 21 });

    regionNames.forEach(r => txt(g, xYear(r[1]) + (r[2] === "start" ? 1 : 0), y(cfg.regionY), r[0], 21, r[2]));
    cfg.notes.forEach(n => txt(g, xYear(n[1]), y(n[2]), n[0], 18.5, n[3] || "middle"));
    legend(g, 106, 172, 191, cfg.legY[0], cfg.legY[1], 3.6);
}

// Panel 1
const y1 = d3.scaleLinear().domain([2.747, 8]).range([497.6, 82.6]);
yearPanel(y1, 0, {
    title: "Predicted MBS Yields*", unit: "Percent", red: p1Normal, blue: p1Subprime,
    meanNormal: p1MeanNormal, meanSub: p1MeanSub, yTicks: [3, 4, 5, 6, 7, 8], rightLabelX: 1375,
    regionY: 7.738, mayTop: 6.1, zero: false, legY: [413.2, 434.6],
    notes: [["5.95", 2003.241, 6.09], ["5.83", 2000.990, 5.667], ["5.63", 2004.831, 5.776], ["5.46", 2006.655, 5.319],
        ["5.33", 2008.245, 5.471], ["5.17", 2007.819, 5.014], ["3.64", 2009.327, 3.785], ["3.56", 2009.157, 3.414],
        ["4.28", 2009.896, 4.438], ["4.36", 2009.650, 4.199], ["3.45", 2010.491, 3.597], ["3.42", 2010.491, 3.270],
        ["May 27", 2009.418, 5.995, "start"], ["Nov 03", 2010.895, 2.877, "start"]]
});

// Panel 2
const y2 = d3.scaleLinear().domain([-100, 150]).range([1071.7, 657.8]);
yearPanel(y2, 574.4, {
    title: "History of Actual - Predicted MBS Yields", unit: "Basis Points", red: p2Normal, blue: p2Subprime,
    meanNormal: p2MeanNormal, meanSub: p2MeanSub, yTicks: [-100, -50, 0, 50, 100, 150], rightLabelX: 1390,
    regionY: 143.8, mayTop: 115, zero: true, legY: [739.8, 760.4],
    notes: [["12", 2002.155, 17.3], ["0", 2002.737, -5.0], ["17", 2004.996, 21.0], ["0", 2005.908, -5.0],
        ["53", 2007.737, 58.0], ["37", 2008.407, 32.4], ["49", 2009.082, 43.9], ["41", 2009.027, 36.0],
        ["-8", 2009.859, -2.9], ["-16", 2009.997, -21.2], ["15", 2010.391, 20.0], ["17", 2010.344, 12.1],
        ["May 27", 2009.418, 110, "start"], ["Nov 03", 2010.895, 37, "start"]]
});

// Panel 3
(function () {
    const g = svg.append("g");
    const x = d3.scaleLinear().domain([-70.2, 725.7]).range([LEFT, RIGHT]);
    const y = d3.scaleLinear().domain([-75.4, 145.5]).range([1646, 1231]);
    clip("clip3", y);
    const yTop = y.range()[1], yBot = y.range()[0];
    txt(g, 706, 1167.5, "Post Crisis Actual - Predicted MBS Yields", 26.8, "middle");
    txt(g, LEFT, 1208.6, "Daily", 18.5);
    txt(g, RIGHT, 1208.6, "Basis Points", 18.5, "end");

    const pl = g.append("g").attr("clip-path", "url(#clip3)");
    pl.append("line").attr("x1", LEFT).attr("x2", RIGHT).attr("y1", y(0)).attr("y2", y(0))
        .attr("stroke", "#000").attr("stroke-width", 1.6).attr("stroke-dasharray", "10,6.5");
    series(pl, x, y, p3Normal, RED, 1.5);
    series(pl, x, y, p3Subprime, BLUE, 1.5);
    means(pl, x, y, p3Edges, p3MeanSub, MCYAN);
    means(pl, x, y, p3Edges, p3MeanNormal, MRED);

    p3Dashed.forEach(d => vline(g, x(d), yTop, yBot, "#000", 1.5, "11,7"));
    vline(g, x(p3Brown), yTop, yBot, BROWN, 1.6);

    frame(g, x, y, { yTicks: [-50, 0, 50, 100], rightLabelX: 1390, xTicks: [0, 365], xLabels: [[182, "2009"], [547, "2010"]], xLabelY: 1667 });

    txt(g, x(-39.9), y(139.7), "Announ-", 21);
    txt(g, x(-37.5), y(126.0), "cement", 21);
    txt(g, x(76.2), y(139.7), "Market Transition", 21, "middle");
    txt(g, x(299.8), y(139.7), "Normal Market Pricing", 21, "middle");
    txt(g, x(580.9), y(139.7), "Post-Fed", 21, "middle");
    [["25Nov08", -37], ["07Jan09", 6], ["27May09", 146], ["31Mar10", 454]]
        .forEach(l => txt(g, x(l[1]) + 0.5, y(113.2), l[0], 13));
    [["74", -16.9, 99.0], ["74", -24.0, 49.1], ["41", 60.4, 65.6], ["31", 60.4, 5.8],
     ["-8", 300.2, 16.8], ["-16", 300.2, -42.1], ["17", 562.7, 42.4], ["15", 562.7, -11.0]]
        .forEach(n => txt(g, x(n[1]), y(n[2]), n[0], 18.5, "middle"));
    txt(g, x(680.3), y(36.0), "Nov 03", 18.5);
    legend(g, 484.5, 547.7, 568, 1335.3, 1355.8, 1.5);
})();
</script>
</body>
</html>
